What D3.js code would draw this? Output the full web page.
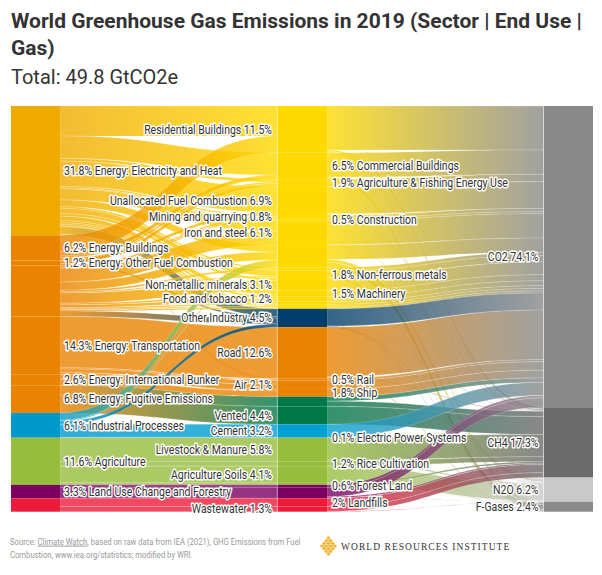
<!DOCTYPE html>
<html><head><meta charset="utf-8">
<script src="https://cdn.jsdelivr.net/npm/d3@7"></script>
<style>
body{margin:0;background:#fff;}
svg{display:block;font-family:Roboto,"Noto Sans",sans-serif;}
</style></head><body>
<svg id="chart" width="602" height="575"></svg>
<script>
// ---------------- DATA ----------------
const sectors = ["Energy: Electricity and Heat","Energy: Buildings","Energy: Other Fuel Combustion","Energy: Manufacturing and Construction","Energy: Transportation","Energy: International Bunker","Energy: Fugitive Emissions","Industrial Processes","Agriculture","Land Use Change and Forestry","Waste"];
const sectorPct = ["31.8%","6.2%","1.2%","","14.3%","2.6%","6.8%","6.1%","11.6%","3.3%",""];
const sectorGroup = ["Electricity and Heat","Energy","Energy","Energy","Energy","Energy","Energy","Industrial Processes","Agriculture","Land Use","Waste"];

const endUses = ["Residential Buildings","Commercial Buildings","Agriculture & Fishing Energy Use","Unallocated Fuel Combustion","Mining and quarrying","Construction","Iron and steel","Chemical and petrochemical","Paper, pulp and printing","Non-ferrous metals","Non-metallic minerals","Machinery","Food and tobacco","Transport equipment","Textile and leather","Wood and wood products","Other Industry","Road","Rail","Air","Ship","Other Fugitive","Vented","Cement","Electric Power Systems","Livestock & Manure","Rice Cultivation","Agriculture Soils","Crop Burning","Forest Land","Other Land Use","Landfills","Wastewater"];
const endUsePct = ["11.5%","6.5%","1.9%","6.9%","0.8%","0.5%","6.1%","","","1.8%","3.1%","1.5%","1.2%","","","","4.5%","12.6%","0.5%","2.1%","1.8%","","4.4%","3.2%","0.1%","5.8%","1.2%","4.1%","","0.6%","","2%","1.3%"];
const endUseGroup = ["Buildings & Industry","Buildings & Industry","Buildings & Industry","Buildings & Industry","Buildings & Industry","Buildings & Industry","Buildings & Industry","Buildings & Industry","Buildings & Industry","Buildings & Industry","Buildings & Industry","Buildings & Industry","Buildings & Industry","Buildings & Industry","Buildings & Industry","Buildings & Industry","Other Industry","Transport","Transport","Transport","Transport","Fugitive","Fugitive","Industrial Processes","Industrial Processes","Agriculture","Agriculture","Agriculture","Agriculture","Land Use","Land Use","Waste","Waste"];

const gases = ["CO2","CH4","N2O","F-Gases"];
const gasPct = ["74.1%","17.3%","6.2%","2.4%"];

// sector -> end use flows (% of total)
const sectorFlows = [
 ["Energy: Electricity and Heat","Residential Buildings",7.4],["Energy: Electricity and Heat","Commercial Buildings",5.5],
 ["Energy: Electricity and Heat","Agriculture & Fishing Energy Use",0.7],["Energy: Electricity and Heat","Unallocated Fuel Combustion",6.2],
 ["Energy: Electricity and Heat","Mining and quarrying",0.4],["Energy: Electricity and Heat","Construction",0.2],
 ["Energy: Electricity and Heat","Iron and steel",2.7],["Energy: Electricity and Heat","Chemical and petrochemical",1.7],
 ["Energy: Electricity and Heat","Paper, pulp and printing",0.4],["Energy: Electricity and Heat","Non-ferrous metals",1.3],
 ["Energy: Electricity and Heat","Non-metallic minerals",0.6],["Energy: Electricity and Heat","Machinery",1.1],
 ["Energy: Electricity and Heat","Food and tobacco",0.5],["Energy: Electricity and Heat","Transport equipment",0.4],
 ["Energy: Electricity and Heat","Textile and leather",0.4],["Energy: Electricity and Heat","Wood and wood products",0.2],
 ["Energy: Electricity and Heat","Other Industry",1.9],["Energy: Electricity and Heat","Rail",0.2],
 ["Energy: Buildings","Residential Buildings",4.1],["Energy: Buildings","Commercial Buildings",1.0],
 ["Energy: Buildings","Agriculture & Fishing Energy Use",0.4],["Energy: Buildings","Unallocated Fuel Combustion",0.7],
 ["Energy: Other Fuel Combustion","Agriculture & Fishing Energy Use",0.8],["Energy: Other Fuel Combustion","Other Industry",0.4],
 ["Energy: Manufacturing and Construction","Mining and quarrying",0.4],["Energy: Manufacturing and Construction","Construction",0.3],
 ["Energy: Manufacturing and Construction","Iron and steel",3.4],["Energy: Manufacturing and Construction","Chemical and petrochemical",2.0],
 ["Energy: Manufacturing and Construction","Paper, pulp and printing",0.4],["Energy: Manufacturing and Construction","Non-ferrous metals",0.3],
 ["Energy: Manufacturing and Construction","Non-metallic minerals",2.5],["Energy: Manufacturing and Construction","Machinery",0.4],
 ["Energy: Manufacturing and Construction","Food and tobacco",0.7],["Energy: Manufacturing and Construction","Transport equipment",0.3],
 ["Energy: Manufacturing and Construction","Textile and leather",0.2],["Energy: Manufacturing and Construction","Wood and wood products",0.3],
 ["Energy: Manufacturing and Construction","Other Industry",1.4],
 ["Energy: Transportation","Road",12.6],["Energy: Transportation","Rail",0.3],["Energy: Transportation","Air",0.9],["Energy: Transportation","Ship",0.5],
 ["Energy: International Bunker","Air",1.2],["Energy: International Bunker","Ship",1.4],
 ["Energy: Fugitive Emissions","Other Fugitive",2.4],["Energy: Fugitive Emissions","Vented",4.4],
 ["Industrial Processes","Chemical and petrochemical",1.8],["Industrial Processes","Non-ferrous metals",0.2],["Industrial Processes","Other Industry",0.8],
 ["Industrial Processes","Cement",3.2],["Industrial Processes","Electric Power Systems",0.1],
 ["Agriculture","Livestock & Manure",5.8],["Agriculture","Rice Cultivation",1.2],["Agriculture","Agriculture Soils",4.1],["Agriculture","Crop Burning",0.5],
 ["Land Use Change and Forestry","Forest Land",0.6],["Land Use Change and Forestry","Other Land Use",2.7],
 ["Waste","Landfills",2.0],["Waste","Wastewater",1.3]
];

// end use -> gas flows (% of total)
const gasFlows = [
 ["Residential Buildings","CO2",10.8],["Residential Buildings","CH4",0.4],["Residential Buildings","N2O",0.1],["Residential Buildings","F-Gases",0.2],
 ["Commercial Buildings","CO2",6.0],["Commercial Buildings","CH4",0.1],["Commercial Buildings","F-Gases",0.4],
 ["Agriculture & Fishing Energy Use","CO2",1.8],["Agriculture & Fishing Energy Use","N2O",0.1],
 ["Unallocated Fuel Combustion","CO2",6.6],["Unallocated Fuel Combustion","CH4",0.2],["Unallocated Fuel Combustion","N2O",0.1],
 ["Mining and quarrying","CO2",0.8],["Construction","CO2",0.5],
 ["Iron and steel","CO2",6.0],["Iron and steel","CH4",0.1],
 ["Chemical and petrochemical","CO2",3.5],["Chemical and petrochemical","N2O",0.8],["Chemical and petrochemical","F-Gases",1.2],
 ["Paper, pulp and printing","CO2",0.8],
 ["Non-ferrous metals","CO2",1.6],["Non-ferrous metals","F-Gases",0.2],
 ["Non-metallic minerals","CO2",3.1],["Machinery","CO2",1.5],["Food and tobacco","CO2",1.2],
 ["Transport equipment","CO2",0.7],["Textile and leather","CO2",0.6],["Wood and wood products","CO2",0.5],
 ["Other Industry","CO2",4.2],["Other Industry","CH4",0.1],["Other Industry","N2O",0.1],["Other Industry","F-Gases",0.1],
 ["Road","CO2",12.2],["Road","CH4",0.1],["Road","N2O",0.1],["Road","F-Gases",0.2],
 ["Rail","CO2",0.5],["Air","CO2",2.1],["Ship","CO2",1.9],
 ["Other Fugitive","CO2",1.1],["Other Fugitive","CH4",1.3],
 ["Vented","CH4",4.4],
 ["Cement","CO2",3.2],["Electric Power Systems","F-Gases",0.1],
 ["Livestock & Manure","CH4",5.5],["Livestock & Manure","N2O",0.3],
 ["Rice Cultivation","CH4",1.2],["Agriculture Soils","N2O",4.1],
 ["Crop Burning","CH4",0.4],["Crop Burning","N2O",0.1],
 ["Forest Land","CO2",0.6],
 ["Other Land Use","CO2",2.3],["Other Land Use","CH4",0.3],["Other Land Use","N2O",0.1],
 ["Landfills","CH4",2.0],["Wastewater","CH4",1.2],["Wastewater","N2O",0.1]
];

// ---------------- STYLE ----------------
const sectorColor = d3.scaleOrdinal(
  ["Electricity and Heat","Energy","Industrial Processes","Agriculture","Land Use","Waste"],
  ["#F0AB00","#E98300","#0099CC","#97BD3D","#7B0062","#ED1B3A"]);
const endUseColor = d3.scaleOrdinal(
  ["Buildings & Industry","Other Industry","Transport","Fugitive","Industrial Processes","Agriculture","Land Use","Waste"],
  ["#FFDA00","#003F6B","#E98300","#00784A","#00A0D2","#97BD3D","#7B0062","#ED1B3A"]);
const gasColor = d3.scaleOrdinal(gases, ["#898989","#6B6B6B","#C9C9C9","#898989"]);
const leftLabelSide = new Set(["Residential Buildings","Unallocated Fuel Combustion","Mining and quarrying","Iron and steel","Non-metallic minerals","Food and tobacco","Other Industry","Road","Air","Vented","Cement","Livestock & Manure","Agriculture Soils","Wastewater"]);

const svg = d3.select("#chart");
const chartTop = 106, chartBottom = 511.7;
const colX = [[11,60],[277.5,327],[544,593]];

// ---------------- LAYOUT ----------------
const nodes = [];
const byKey = new Map();
function addNode(col, name, pct, color){
  const n = {col, name, pct, color, inLinks:[], outLinks:[]};
  nodes.push(n); byKey.set(col+"|"+name, n); return n;
}
sectors.forEach((s,i)=>addNode(0,s,sectorPct[i],sectorColor(sectorGroup[i])));
endUses.forEach((s,i)=>addNode(1,s,endUsePct[i],endUseColor(endUseGroup[i])));
gases.forEach((s,i)=>addNode(2,s,gasPct[i],gasColor(s)));

const links = [];
sectorFlows.forEach(([a,b,v])=>{const l={source:byKey.get("0|"+a),target:byKey.get("1|"+b),value:v};links.push(l);l.source.outLinks.push(l);l.target.inLinks.push(l);});
gasFlows.forEach(([a,b,v])=>{const l={source:byKey.get("1|"+a),target:byKey.get("2|"+b),value:v};links.push(l);l.source.outLinks.push(l);l.target.inLinks.push(l);});

nodes.forEach(n=>{n.value=Math.max(d3.sum(n.inLinks,l=>l.value),d3.sum(n.outLinks,l=>l.value));});
const colTotals=[0,1,2].map(c=>d3.sum(nodes.filter(n=>n.col===c),n=>n.value));
const y = d3.scaleLinear().domain([0,d3.max(colTotals)]).range([chartTop,chartBottom]);
const ky = y(1)-y(0);
[0,1,2].forEach(c=>{
  let acc=0;
  nodes.filter(n=>n.col===c).forEach(n=>{n.y0=y(acc);acc+=n.value;n.y1=y(acc);n.x0=colX[c][0];n.x1=colX[c][1];});
});
nodes.forEach(n=>{
  n.outLinks.sort((a,b)=>a.target.y0-b.target.y0);
  let s=n.y0; n.outLinks.forEach(l=>{l.sy0=s; s+=l.value*ky; l.sy1=s;});
  n.inLinks.sort((a,b)=>a.source.y0-b.source.y0);
  let t=n.y0; n.inLinks.forEach(l=>{l.ty0=t; t+=l.value*ky; l.ty1=t;});
});

function ribbon(l){
  const x0=l.source.x1, x1=l.target.x0-0.5, xm=(x0+x1)/2;
  return `M${x0},${l.sy0}C${xm},${l.sy0} ${xm},${l.ty0} ${x1},${l.ty0}L${x1},${l.ty1}C${xm},${l.ty1} ${xm},${l.sy1} ${x0},${l.sy1}Z`;
}

// ---------------- DRAW ----------------
const defs = svg.append("defs");
links.forEach((l,i)=>{
  const g = defs.append("linearGradient").attr("id","lg"+i).attr("gradientUnits","userSpaceOnUse")
    .attr("x1",l.source.x1).attr("x2",l.target.x0).attr("y1",0).attr("y2",0);
  g.append("stop").attr("offset","0%").attr("stop-color",l.source.color);
  g.append("stop").attr("offset","100%").attr("stop-color",l.target.color);
});

svg.append("g").selectAll("path").data(links).join("path")
  .attr("d",ribbon)
  .attr("fill",(d,i)=>`url(#lg${i})`)
  .attr("fill-opacity",0.8)
  .attr("stroke","#fff").attr("stroke-opacity",0.35).attr("stroke-width",0.5);

svg.append("g").selectAll("rect").data(nodes).join("rect")
  .attr("x",d=>d.x0).attr("y",d=>d.y0)
  .attr("width",d=>d.x1-d.x0).attr("height",d=>Math.max(0.5,d.y1-d.y0))
  .attr("fill",d=>d.color);

// labels
const labels=[];
nodes.forEach(n=>{
  if(!n.pct) return;
  const cy=(n.y0+n.y1)/2;
  if(n.col===0) labels.push({x:n.x1+4,y:cy,anchor:"start",text:`${n.pct} ${n.name}`});
  else if(n.col===1){
    if(leftLabelSide.has(n.name)) labels.push({x:n.x0-5.5,y:cy,anchor:"end",text:`${n.name} ${n.pct}`});
    else labels.push({x:n.x1+5,y:cy,anchor:"start",text:`${n.pct} ${n.name}`});
  } else labels.push({x:n.x0-5.5,y:cy,anchor:"end",text:`${n.name} ${n.pct}`});
});
const lg = svg.append("g").style("font-size","12px");
lg.selectAll("text").data(labels).join("text")
  .attr("transform",d=>`translate(${d.x},${d.y}) scale(0.875,1)`)
  .attr("dy","0.36em").attr("text-anchor",d=>d.anchor)
  .attr("fill","#333").attr("stroke","#fff").attr("stroke-width",3)
  .attr("stroke-linejoin","round").attr("paint-order","stroke")
  .text(d=>d.text);

// title
svg.append("text").attr("x",11).attr("y",28).attr("fill","#333")
  .style("font-size","21px").style("font-weight","700")
  .text("World Greenhouse Gas Emissions in 2019 (Sector | End Use |");
svg.append("text").attr("x",11).attr("y",55).attr("fill","#333")
  .style("font-size","21px").style("font-weight","700").text("Gas)");
svg.append("text").attr("x",11).attr("y",84).attr("fill","#333")
  .style("font-size","20px").text("Total: 49.8 GtCO2e");

// footer
const f1 = svg.append("text").attr("transform","translate(10,544.5) scale(0.8,1)").attr("fill","#999").style("font-size","9.6px");
f1.append("tspan").text("Source: ");
f1.append("tspan").style("text-decoration","underline").text("Climate Watch");
f1.append("tspan").text(", based on raw data from IEA (2021), GHG Emissions from Fuel");
svg.append("text").attr("transform","translate(10,557.5) scale(0.8,1)").attr("fill","#999").style("font-size","9.6px")
  .text("Combustion, www.iea.org/statistics; modified by WRI.");

// WRI logo
const logo = svg.append("g").attr("transform","translate(328.5,546)");
const lat=[-1.5,-0.5,0.5,1.5];
lat.forEach(i=>lat.forEach(j=>{
  logo.append("circle").attr("cx",(i-j)*2.2).attr("cy",(i+j)*2.7).attr("r",1.6).attr("fill","#F2B233");
}));
[-1,0,1].forEach(i=>[-1,0,1].forEach(j=>{
  logo.append("circle").attr("cx",(i-j)*2.2).attr("cy",(i+j)*2.7).attr("r",1.1).attr("fill","#F7C85A");
}));
svg.append("text").attr("x",341).attr("y",549.5).attr("fill","#333")
  .style("font-family","'Liberation Serif','DejaVu Serif',serif").style("font-size","9.5px").style("letter-spacing","1.05px")
  .text("WORLD RESOURCES INSTITUTE");
</script>
</body></html>
